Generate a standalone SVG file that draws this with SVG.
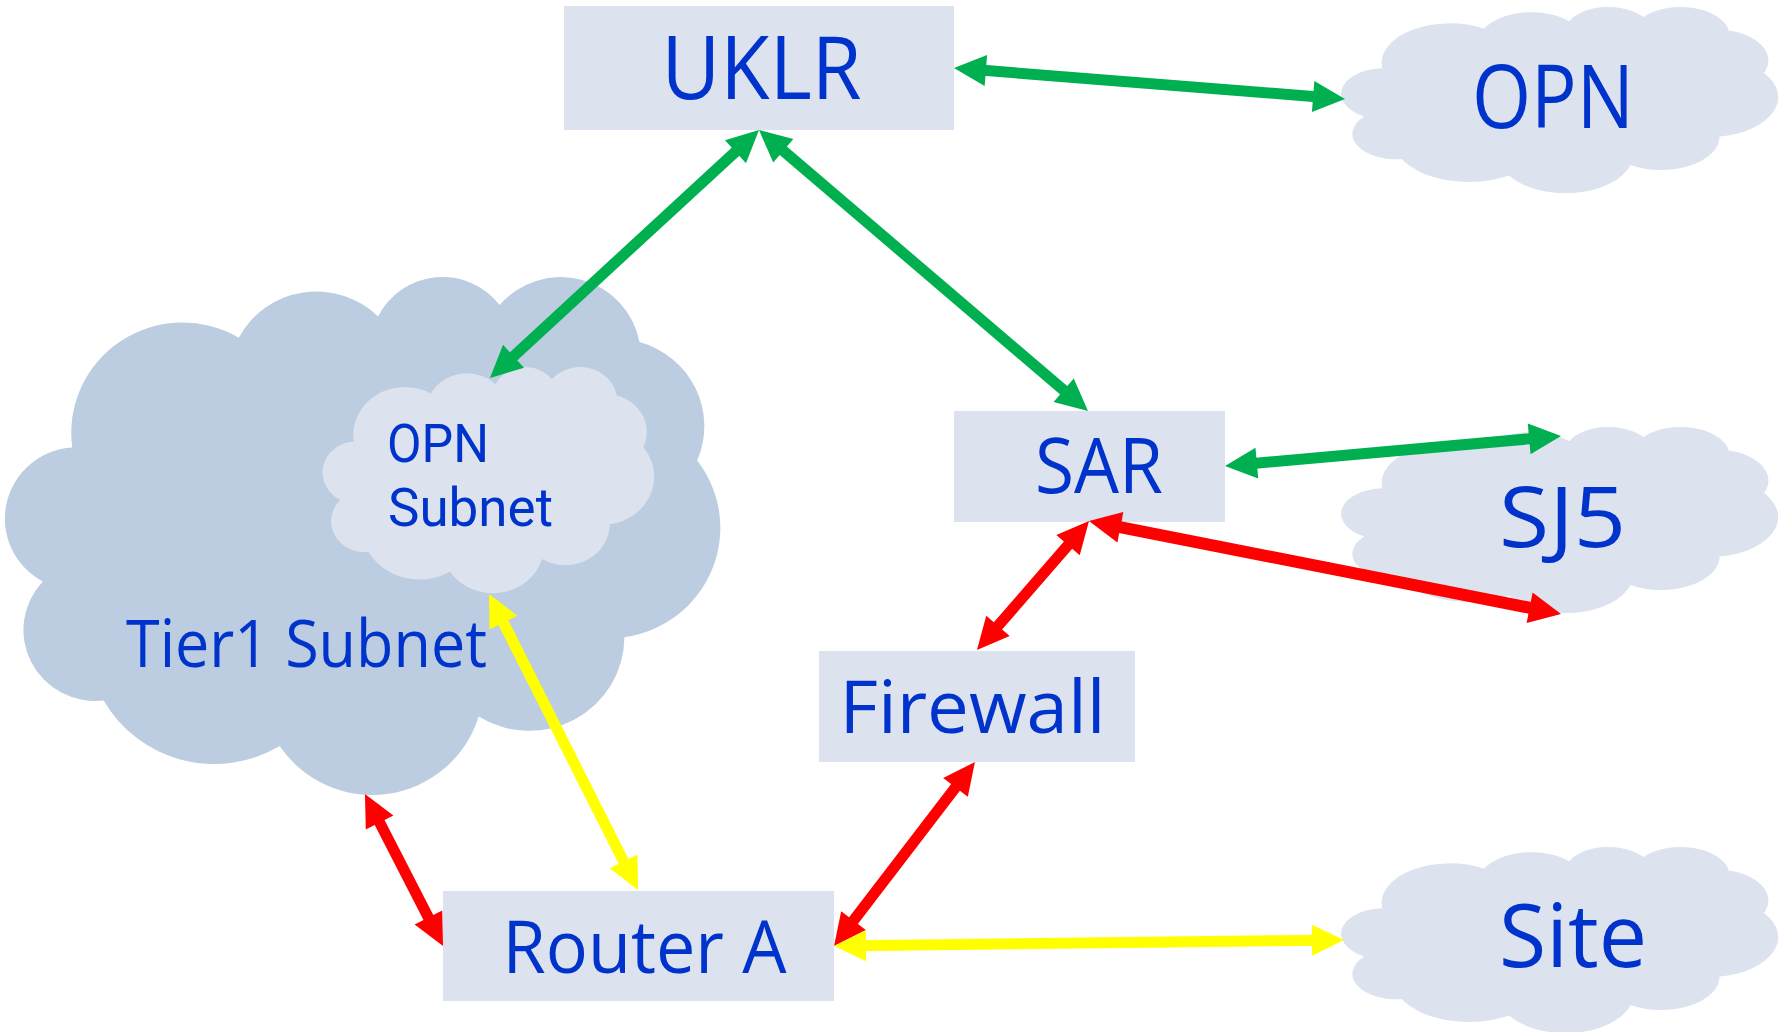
<svg xmlns="http://www.w3.org/2000/svg" xmlns:xlink="http://www.w3.org/1999/xlink" width="1790" height="1032" viewBox="0 0 1790 1032">
  <style>
    .box { fill: #dce3ee; }
    .cloud-light { fill: #dce3ee; }
    .cloud-dark { fill: #bccde1; }
    .label { font-family: "Open Sans", "Noto Sans", "Liberation Sans", sans-serif; fill: #0033cc; }
    .label-small { font-family: Roboto, "Liberation Sans", sans-serif; fill: #0033cc; }
    .link { fill: none; stroke-width: 11; stroke-linecap: butt; }
    .thick { stroke-width: 12; }
    .green { stroke: #00b050; marker-start: url(#head-green); marker-end: url(#head-green); }
    .red { stroke: #ff0000; marker-start: url(#head-red); marker-end: url(#head-red); }
    .yellow { stroke: #ffff00; marker-start: url(#head-yellow); marker-end: url(#head-yellow); }
  </style>
  <defs>
    <!-- cloud outline in a 43200 x 43200 frame -->
    <path id="cloud" d="M3900,14370 A6753,9190 0 0 1 14005,5202 A5333,7267 0 0 1 22455,3432 A4365,5945 0 0 1 29832,2479 A4857,6595 0 0 1 38317,5574 A5333,7273 0 0 1 41818,15458 A6775,9220 0 0 1 37404,30202 A5785,7867 0 0 1 28556,36812 A6752,9215 0 0 1 16481,39265 A7720,10543 0 0 1 5804,35471 A4360,5918 0 0 1 2112,25550 A4345,5945 0 0 1 3900,14370 Z"/>
    <marker id="head-green" markerUnits="userSpaceOnUse" orient="auto-start-reverse" refX="12" refY="0" markerWidth="32" markerHeight="32" overflow="visible">
      <path d="M0,-15.5 L32,0 L0,15.5 Z" fill="#00b050"/>
    </marker>
    <marker id="head-red" markerUnits="userSpaceOnUse" orient="auto-start-reverse" refX="12" refY="0" markerWidth="32" markerHeight="32" overflow="visible">
      <path d="M0,-15.5 L32,0 L0,15.5 Z" fill="#ff0000"/>
    </marker>
    <marker id="head-yellow" markerUnits="userSpaceOnUse" orient="auto-start-reverse" refX="12" refY="0" markerWidth="32" markerHeight="32" overflow="visible">
      <path d="M0,-15.5 L32,0 L0,15.5 Z" fill="#ffff00"/>
    </marker>
  </defs>

  <rect width="1790" height="1032" fill="#ffffff"/>

  <g id="node-tier1-subnet">
    <use xlink:href="#cloud" href="#cloud" class="cloud-dark" transform="translate(8,275.3) scale(0.016481,0.011986)"/>
    <text class="label" x="306.5" y="667" font-size="66" text-anchor="middle" textLength="361" lengthAdjust="spacingAndGlyphs">Tier1 Subnet</text>
  </g>

  <g id="node-opn-subnet">
    <use xlink:href="#cloud" href="#cloud" class="cloud-light" transform="translate(324,366.3) scale(0.0076389,0.0052315)"/>
    <text class="label-small" font-size="53"><tspan x="387" y="462" textLength="102" lengthAdjust="spacingAndGlyphs">OPN</tspan><tspan x="388" y="526" textLength="165" lengthAdjust="spacingAndGlyphs">Subnet</tspan></text>
  </g>

  <g id="node-uklr">
    <rect class="box" x="564" y="6" width="390" height="124"/>
    <text class="label" x="761.5" y="99" font-size="87" text-anchor="middle" textLength="200" lengthAdjust="spacingAndGlyphs">UKLR</text>
  </g>

  <g id="node-opn">
    <use xlink:href="#cloud" href="#cloud" class="cloud-light" transform="translate(1343,6.4) scale(0.010069,0.0043056)"/>
    <text class="label" x="1553" y="128" font-size="87" text-anchor="middle" textLength="162" lengthAdjust="spacingAndGlyphs">OPN</text>
  </g>

  <g id="node-sar">
    <rect class="box" x="954" y="411" width="271" height="111"/>
    <text class="label" x="1099" y="493" font-size="76" text-anchor="middle" textLength="128" lengthAdjust="spacingAndGlyphs">SAR</text>
  </g>

  <g id="node-sj5">
    <use xlink:href="#cloud" href="#cloud" class="cloud-light" transform="translate(1343,426.4) scale(0.010069,0.0043056)"/>
    <text class="label" x="1562.5" y="547" font-size="85" text-anchor="middle" textLength="127" lengthAdjust="spacingAndGlyphs">SJ5</text>
  </g>

  <g id="node-firewall">
    <rect class="box" x="819" y="651" width="316" height="111"/>
    <text class="label" x="972.5" y="733" font-size="74" text-anchor="middle" textLength="266" lengthAdjust="spacingAndGlyphs">Firewall</text>
  </g>

  <g id="node-router-a">
    <rect class="box" x="443" y="891" width="391" height="110"/>
    <text class="label" x="644.5" y="973" font-size="74" text-anchor="middle" textLength="284" lengthAdjust="spacingAndGlyphs">Router A</text>
  </g>

  <g id="node-site">
    <use xlink:href="#cloud" href="#cloud" class="cloud-light" transform="translate(1343,846.4) scale(0.010069,0.0043056)"/>
    <text class="label" x="1573" y="967" font-size="87" text-anchor="middle" textLength="148" lengthAdjust="spacingAndGlyphs">Site</text>
  </g>

  <g id="connectors">
    <line class="link green" x1="973.9" y1="69.6" x2="1325.1" y2="97.4"/>
    <line class="link green" x1="744.3" y1="143.6" x2="504.7" y2="364.4"/>
    <line class="link green" x1="774.2" y1="143" x2="1072.8" y2="398"/>
    <line class="link green" x1="1244.9" y1="464.2" x2="1541.1" y2="437.8"/>
    <line class="link red" x1="1075.9" y1="536.1" x2="990.1" y2="634.9"/>
    <line class="link red thick" x1="1108.6" y1="524.9" x2="1541.4" y2="610.1"/>
    <line class="link red" x1="962.8" y1="777.9" x2="846.2" y2="930.1"/>
    <line class="link red" x1="433.9" y1="928.2" x2="374.1" y2="811.8"/>
    <line class="link yellow" x1="854" y1="945.8" x2="1324" y2="940.2"/>
    <line class="link yellow" x1="629" y1="872.1" x2="498" y2="611.9"/>
  </g>
</svg>
